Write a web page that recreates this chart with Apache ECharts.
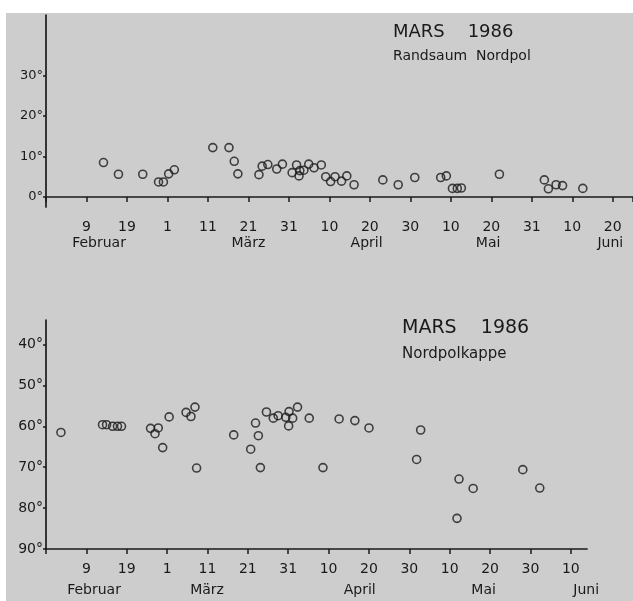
<!DOCTYPE html>
<html><head><meta charset="utf-8">
<script src="https://cdn.jsdelivr.net/npm/echarts@6/dist/echarts.min.js"></script>
<style>html,body{margin:0;padding:0;background:#fff}#c{width:633px;height:601px}</style>
</head><body><div id="c"></div>
<script>
// x values: days after 30 January 1986 (9 Feb = 10)
const topTickLabels = ['', '9', '19', '1', '11', '21', '31', '10', '20', '30', '10', '20', '31', '10', '20'];
const bottomTickLabels = ['', '9', '19', '1', '11', '21', '31', '10', '20', '30', '10', '20', '30', '10'];
const monthNames = ['Februar', 'März', 'April', 'Mai', 'Juni'];
const topMonthPos = [13.1, 50, 79.2, 109.2, 139.4];
const bottomMonthPos = [11.9, 39.9, 77.7, 108.4, 133.8];
const topYTicks = [0, 10, 20, 30];
const bottomYTicks = [40, 50, 60, 70, 80, 90];

// Randsaum Nordpol
const rimDay = [14.2, 17.9, 23.9, 27.8, 29.0, 30.3, 31.7, 41.2, 45.2, 46.5, 47.4, 52.6, 53.4, 54.8, 57.0, 58.4,
  60.8, 61.9, 62.5, 62.7, 63.7, 64.9, 66.2, 68.0, 69.1, 70.3, 71.4, 73.0, 74.3, 76.1, 83.2, 87.0, 91.1, 97.5,
  98.9, 100.4, 101.6, 102.6, 112.0, 123.1, 124.1, 126.0, 127.6, 132.6];
const rimDeg = [8.5, 5.6, 5.6, 3.7, 3.7, 5.7, 6.7, 12.2, 12.2, 8.8, 5.7, 5.5, 7.6, 8.0, 6.9, 8.1,
  6.0, 7.9, 5.2, 6.5, 6.6, 8.1, 7.2, 7.9, 5.0, 3.8, 5.0, 3.9, 5.2, 3.0, 4.2, 3.0, 4.8, 4.8,
  5.2, 2.1, 2.1, 2.2, 5.6, 4.2, 2.0, 3.0, 2.8, 2.1];

// Nordpolkappe
const capDay = [3.7, 14.0, 15.0, 16.5, 17.7, 18.7, 25.9, 27.0, 27.8, 28.9, 30.5, 34.7, 35.9, 36.9, 37.3,
  46.5, 50.7, 51.9, 52.6, 53.1, 54.6, 56.3, 57.5, 59.4, 60.2, 61.1, 60.1, 62.3, 65.2, 68.6, 72.6, 76.5,
  80.0, 91.8, 92.8, 102.3, 101.8, 105.8, 118.1, 122.3];
const capDeg = [61.5, 59.6, 59.6, 60.0, 60.0, 60.0, 60.5, 61.8, 60.4, 65.2, 57.7, 56.6, 57.6, 55.3, 70.2,
  62.1, 65.6, 59.2, 62.3, 70.1, 56.5, 58.0, 57.4, 57.8, 56.4, 58.0, 59.9, 55.3, 58.0, 70.1, 58.2, 58.6,
  60.4, 68.1, 60.9, 72.9, 82.5, 75.2, 70.6, 75.1];

const ink = '#1a1a1a';
const font = 'DejaVu Sans';
const zip = (a, b) => a.map((v, i) => [v, b[i]]);
const monthFmt = (pos) => (v) => {
  const i = pos.findIndex(p => Math.abs(p - v) < 0.01);
  return i >= 0 ? monthNames[i] : '';
};
const tickFmt = (labels) => (v) => labels[Math.round(v / 10)] || '';
const circle = {
  symbol: 'circle', symbolSize: 8,
  itemStyle: { color: 'rgba(0,0,0,0)', borderColor: ink, borderWidth: 1.6 }
};

const chart = echarts.init(document.getElementById('c'));
chart.setOption({
  animation: false,
  backgroundColor: '#ffffff',
  textStyle: { fontFamily: font, color: ink },
  graphic: [{ type: 'rect', left: 6, top: 13, z: -100, silent: true,
    shape: { width: 627, height: 588 }, style: { fill: '#cdcdcd' } }],
  title: [
    { text: 'MARS    1986', subtext: 'Randsaum  Nordpol', left: 393, top: 23, itemGap: 8, padding: 0,
      textStyle: { fontFamily: font, fontSize: 18, fontWeight: 'normal', color: ink },
      subtextStyle: { fontFamily: font, fontSize: 14, color: ink } },
    { text: 'MARS    1986', subtext: 'Nordpolkappe', left: 402, top: 319, itemGap: 9, padding: 0,
      textStyle: { fontFamily: font, fontSize: 19, fontWeight: 'normal', color: ink },
      subtextStyle: { fontFamily: font, fontSize: 15, color: ink } }
  ],
  grid: [
    { left: 46, top: 15, width: 587, height: 192, containLabel: false, outerBoundsMode: 'none' },
    { left: 46, top: 320, width: 541, height: 229, containLabel: false, outerBoundsMode: 'none' }
  ],
  xAxis: [
    { gridIndex: 0, type: 'value', min: 0, max: 145, interval: 10,
      axisLine: { onZero: true, lineStyle: { color: ink, width: 1.7 } },
      axisTick: { length: 5, lineStyle: { color: ink, width: 1.5 } },
      splitLine: { show: false },
      axisLabel: { formatter: tickFmt(topTickLabels), margin: 13, fontSize: 14, color: ink, fontFamily: font } },
    { gridIndex: 0, type: 'value', min: 0, max: 145, position: 'bottom',
      axisLine: { show: false, onZero: false }, axisTick: { show: false }, splitLine: { show: false },
      axisLabel: { customValues: topMonthPos, formatter: monthFmt(topMonthPos), margin: 29, fontSize: 14, color: ink, fontFamily: font } },
    { gridIndex: 1, type: 'value', min: 0, max: 134, interval: 10,
      axisLine: { onZero: false, lineStyle: { color: ink, width: 1.7 } },
      axisTick: { length: 5, lineStyle: { color: ink, width: 1.5 } },
      splitLine: { show: false },
      axisLabel: { formatter: tickFmt(bottomTickLabels), margin: 13, fontSize: 14, color: ink, fontFamily: font } },
    { gridIndex: 1, type: 'value', min: 0, max: 134, position: 'bottom',
      axisLine: { show: false, onZero: false }, axisTick: { show: false }, splitLine: { show: false },
      axisLabel: { customValues: bottomMonthPos, formatter: monthFmt(bottomMonthPos), margin: 34, fontSize: 14, color: ink, fontFamily: font } }
  ],
  yAxis: [
    { gridIndex: 0, type: 'value', min: -2.5, max: 45,
      axisLine: { show: true, onZero: false, lineStyle: { color: ink, width: 1.7 } },
      axisTick: { show: true, length: 3, customValues: topYTicks, lineStyle: { color: ink, width: 1.5 } },
      splitLine: { show: false },
      axisLabel: { customValues: topYTicks, formatter: v => v + '°', margin: 3, fontSize: 13, color: ink, fontFamily: font } },
    { gridIndex: 1, type: 'value', min: 34, max: 90, inverse: true,
      axisLine: { show: true, onZero: false, lineStyle: { color: ink, width: 1.7 } },
      axisTick: { show: true, length: 3, customValues: bottomYTicks, lineStyle: { color: ink, width: 1.5 } },
      splitLine: { show: false },
      axisLabel: { customValues: bottomYTicks, formatter: v => v + '°', margin: 3, fontSize: 14, color: ink, fontFamily: font } }
  ],
  series: [
    Object.assign({ type: 'scatter', name: 'Randsaum Nordpol', xAxisIndex: 0, yAxisIndex: 0, data: zip(rimDay, rimDeg) }, circle),
    Object.assign({ type: 'scatter', name: 'Nordpolkappe', xAxisIndex: 2, yAxisIndex: 1, data: zip(capDay, capDeg) }, circle)
  ]
});
</script>
</body></html>
